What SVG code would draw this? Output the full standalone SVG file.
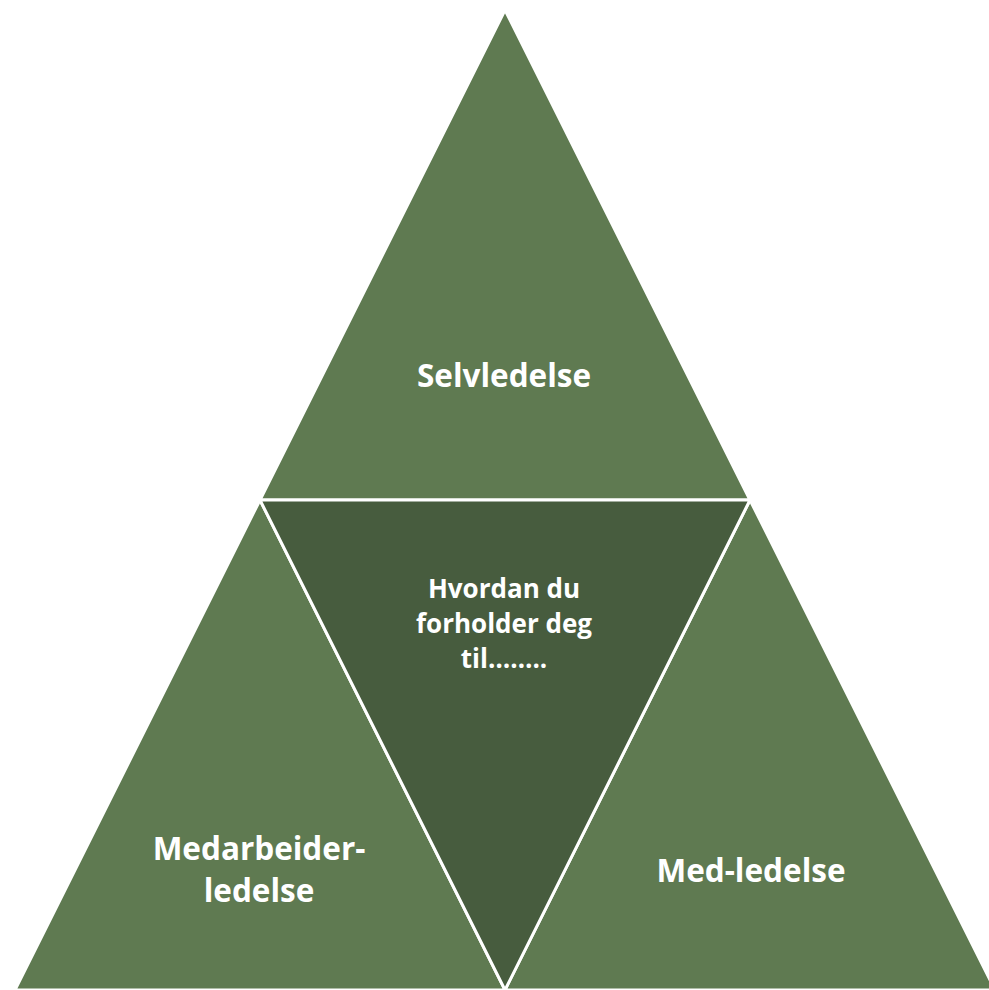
<svg xmlns="http://www.w3.org/2000/svg" width="989" height="990" viewBox="0 0 989 990">
<style>
.t{fill:#5f7a51;stroke:#fff;stroke-width:3;stroke-linejoin:miter}
.c{fill:#475c3e;stroke:#fff;stroke-width:3}
.lbl{font-family:"Open Sans","Liberation Sans",sans-serif;font-weight:bold;fill:#fff;text-anchor:middle}
.big{font-size:31.5px}
.mid{font-size:26px}
</style>
<rect width="989" height="990" fill="#fff"/>
<g id="top"><polygon class="t" points="505,10 260,500 750,500"/><text class="lbl big" x="504" y="387">Selvledelse</text></g>
<g id="left"><polygon class="t" points="260,500 15,990 505,990"/><text class="lbl big" x="259" y="860">Medarbeider-</text><text class="lbl big" x="259" y="902">ledelse</text></g>
<g id="right"><polygon class="t" points="750,500 505,990 995,990"/><text class="lbl big" x="751" y="882">Med-ledelse</text></g>
<g id="center"><polygon class="c" points="260,500 750,500 505,990"/><text class="lbl mid" x="504" y="598">Hvordan du</text><text class="lbl mid" x="504" y="633">forholder deg</text><text class="lbl mid" x="504" y="668">til……..</text></g>
<g id="connectors"/>
</svg>
